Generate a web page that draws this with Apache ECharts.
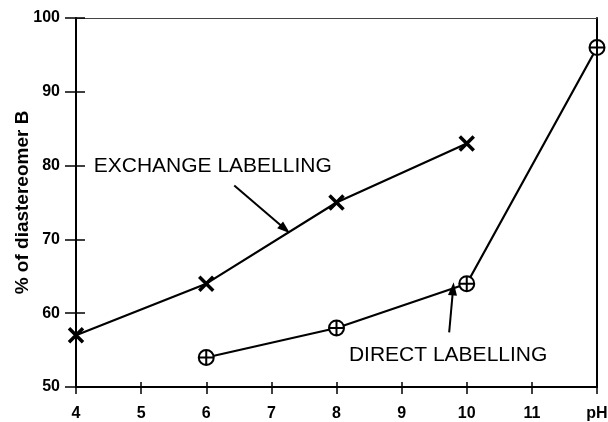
<!DOCTYPE html>
<html>
<head>
<meta charset="utf-8">
<script src="https://cdn.jsdelivr.net/npm/echarts@6/dist/echarts.min.js"></script>
<style>
  html, body { margin: 0; padding: 0; background: #fff; }
  #chart { width: 608px; height: 422px; }
</style>
</head>
<body>
<div id="chart"></div>
<script>
// pH values and % diastereomer B for each labelling route
const exchangePH = [4, 6, 8, 10];
const exchangePct = [57, 64, 75, 83];
const directPH = [6, 8, 10, 12];
const directPct = [54, 58, 64, 96];

// axis ticks
const xTicks = [4, 5, 6, 7, 8, 9, 10, 11, 12];
const xTickLabels = ['4', '5', '6', '7', '8', '9', '10', '11', 'pH'];
const yTicks = [50, 60, 70, 80, 90, 100];

// annotation text and arrow endpoints (data space)
const exchangeLabel = 'EXCHANGE LABELLING';
const directLabel = 'DIRECT LABELLING';
const exchangeLabelAt = [6.1, 79.9];
const directLabelAt = [9.714, 54.33];
const exchangeArrow = [[6.43, 77.3], [7.21, 71.4]];
const directArrow = [[9.73, 57.4], [9.79, 63.3]];

const FONT = '"Liberation Sans", Arial, Helvetica, sans-serif';
const INK = '#000';

const crossSymbol = 'path://M0,0L10,10M10,0L0,10';
const circlePlusSymbol = 'path://M0,10A10,10,0,1,1,20,10A10,10,0,1,1,0,10ZM10,0L10,20M0,10L20,10';

const chart = echarts.init(document.getElementById('chart'), null, { renderer: 'canvas' });

const xRange = { type: 'value', min: xTicks[0], max: xTicks[xTicks.length - 1], interval: 1 };
const yRange = { type: 'value', min: yTicks[0], max: yTicks[yTicks.length - 1], interval: 10 };
const noLabel = { show: false };
const noSplit = { show: false };

chart.setOption({
  animation: false,
  backgroundColor: '#fff',
  grid: {
    left: 76, right: 11, top: 18, bottom: 35, show: false,
    containLabel: false, outerBoundsMode: 'none'
  },
  xAxis: [
    Object.assign({}, xRange, {
      position: 'bottom',
      axisLine: { show: true, onZero: false, lineStyle: { color: INK, width: 2 } },
      axisTick: { show: true, inside: false, length: 7, lineStyle: { color: INK, width: 1.5 } },
      splitLine: noSplit,
      axisLabel: {
        margin: 19, color: INK, fontFamily: FONT, fontSize: 16, fontWeight: 'bold',
        formatter: v => xTickLabels[xTicks.indexOf(v)]
      }
    }),
    Object.assign({}, xRange, {
      position: 'bottom',
      axisLine: { show: false, onZero: false },
      axisTick: { show: true, inside: true, length: 5, lineStyle: { color: INK, width: 1.5 } },
      splitLine: noSplit, axisLabel: noLabel
    }),
    // frame across the top
    Object.assign({}, xRange, {
      position: 'top',
      axisLine: { show: true, onZero: false, lineStyle: { color: '#444', width: 1.2 } },
      axisTick: { show: false }, splitLine: noSplit, axisLabel: noLabel
    })
  ],
  yAxis: [
    Object.assign({}, yRange, {
      position: 'left',
      name: '% of diastereomer B',
      nameLocation: 'middle',
      nameGap: 44,
      nameMoveOverlap: false,
      nameRotate: 90,
      nameTextStyle: { color: INK, fontFamily: FONT, fontSize: 19, fontWeight: 'bold' },
      axisLine: { show: true, onZero: false, lineStyle: { color: INK, width: 2 } },
      axisTick: { show: true, inside: false, length: 11, lineStyle: { color: INK, width: 1.5 } },
      splitLine: noSplit,
      axisLabel: { margin: 16, color: INK, fontFamily: FONT, fontSize: 16, fontWeight: 'bold' }
    }),
    Object.assign({}, yRange, {
      position: 'left',
      axisLine: { show: false, onZero: false },
      axisTick: { show: true, inside: true, length: 9, lineStyle: { color: INK, width: 1.5 } },
      splitLine: noSplit, axisLabel: noLabel
    }),
    // frame down the right side
    Object.assign({}, yRange, {
      position: 'right',
      axisLine: { show: true, onZero: false, lineStyle: { color: INK, width: 2 } },
      axisTick: { show: false }, splitLine: noSplit, axisLabel: noLabel
    })
  ],
  series: [
    {
      name: exchangeLabel,
      type: 'line',
      data: exchangePH.map((x, i) => [x, exchangePct[i]]),
      lineStyle: { color: INK, width: 2.2 },
      symbol: crossSymbol,
      symbolSize: 14,
      itemStyle: { color: INK, borderColor: INK, borderWidth: 3.5 },
      z: 3,
      markLine: {
        silent: true,
        symbol: ['none', 'triangle'],
        symbolSize: [9, 13],
        lineStyle: { color: INK, width: 2, type: 'solid' },
        label: { show: false },
        data: [[{ coord: exchangeArrow[0] }, { coord: exchangeArrow[1] }]]
      }
    },
    {
      name: directLabel,
      type: 'line',
      data: directPH.map((x, i) => [x, directPct[i]]),
      lineStyle: { color: INK, width: 2.2 },
      symbol: circlePlusSymbol,
      symbolSize: 15,
      itemStyle: { color: '#fff', borderColor: INK, borderWidth: 2 },
      z: 3,
      markLine: {
        silent: true,
        symbol: ['none', 'triangle'],
        symbolSize: [9, 13],
        lineStyle: { color: INK, width: 2, type: 'solid' },
        label: { show: false },
        data: [[{ coord: directArrow[0] }, { coord: directArrow[1] }]]
      }
    }
  ]
});

// place the two captions in data space
function placeCaptions() {
  const p1 = chart.convertToPixel({ gridIndex: 0 }, exchangeLabelAt);
  const p2 = chart.convertToPixel({ gridIndex: 0 }, directLabelAt);
  const textStyle = { fill: INK, fontFamily: FONT, fontSize: 21, fontWeight: 'normal', textAlign: 'center', textVerticalAlign: 'middle' };
  chart.setOption({
    graphic: [
      { type: 'text', x: p1[0], y: p1[1], style: Object.assign({ text: exchangeLabel }, textStyle) },
      { type: 'text', x: p2[0], y: p2[1], style: Object.assign({ text: directLabel }, textStyle) }
    ]
  });
}
placeCaptions();
</script>
</body>
</html>
